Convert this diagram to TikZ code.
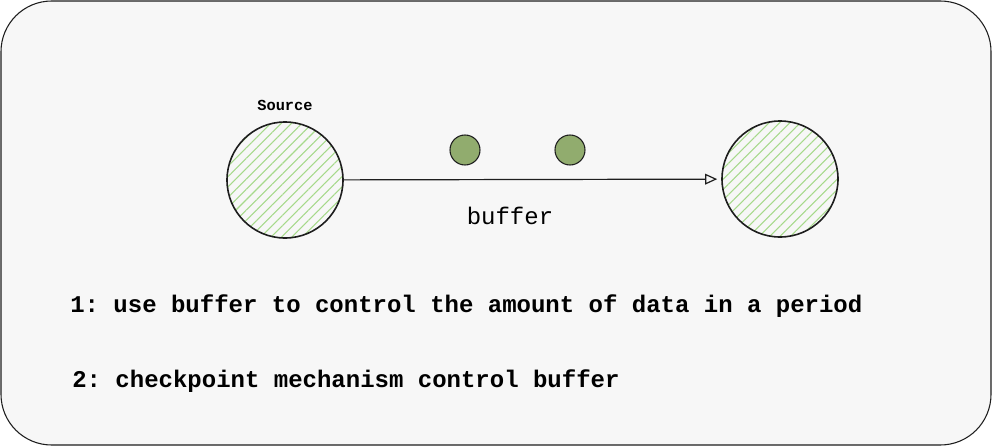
\documentclass[tikz,border=0pt]{standalone}
\usepackage{fontspec}
\setmonofont{Liberation Mono}
\usetikzlibrary{arrows.meta,patterns.meta}

\definecolor{panel}{HTML}{F7F7F7}
\definecolor{ink}{HTML}{1E1E1E}
\definecolor{hatch}{HTML}{A6D98A}
\definecolor{dot}{HTML}{91AC6E}

\begin{document}
\begin{tikzpicture}[x=0.75pt, y=-0.75pt,
			stage/.style = {shape=circle, draw=ink, line width=1.2pt,
				minimum size=87pt, inner sep=0pt,
	pattern={Lines[angle=45,distance=5.5pt,line width=0.8pt]}, pattern color=hatch},
			token/.style = {shape=circle, draw=ink, line width=0.8pt,
				fill=dot, minimum size=22.5pt, inner sep=0pt},
			note/.style = {font=\ttfamily\bfseries\fontsize{18}{20}\selectfont, anchor=west, inner sep=0pt}]
	\useasboundingbox (0,0) rectangle (992,446);
	\draw[ink, fill=panel, line width=0.8pt, rounded corners=38pt] (1,1) rectangle (991,445);
	\node[stage] (src) at (285,180) {};
	\node[stage] (dst) at (780,179) {};
	\node[font=\ttfamily\bfseries\fontsize{11.5}{13}\selectfont, inner sep=0pt] (srclabel) at (285,105) {Source};
	\node[token] (t1) at (465,150) {};
	\node[token] (t2) at (570,150) {};
	\draw[ink, line width=0.9pt, -{Triangle[open, length=9pt, width=8pt]}, shorten >=3pt] (src) -- (dst);
	\node[font=\ttfamily\fontsize{18}{20}\selectfont, inner sep=0pt] (buf) at (510,216) {buffer};
	\node[note] (n1) at (70,306) {1: use buffer to control the amount of data in a period};
	\node[note] (n2) at (72,381) {2: checkpoint mechanism control buffer};
\end{tikzpicture}
\end{document}
